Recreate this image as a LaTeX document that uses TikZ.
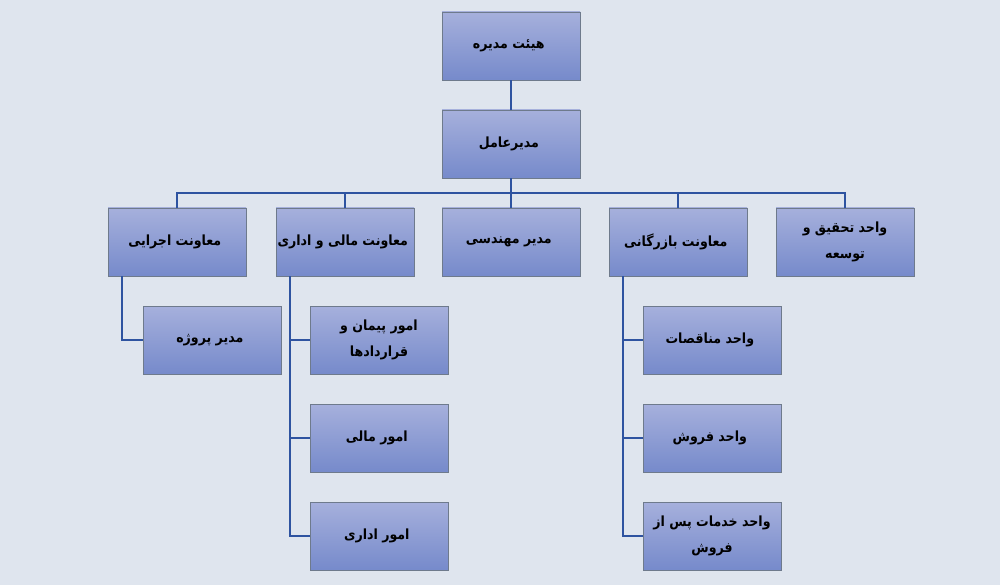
\documentclass[tikz,border=0pt]{standalone}
\usepackage{fontspec}
\usetikzlibrary{calc}
\newfontfamily\arabicfont[Script=Arabic]{DejaVu Sans Condensed}
\TeXXeTstate=1
\definecolor{pagebg}{HTML}{DFE5EE}
\definecolor{boxtop}{HTML}{A6B0DC}
\definecolor{boxbottom}{HTML}{768ACB}
\definecolor{boxline}{HTML}{6E7A8C}
\definecolor{wire}{HTML}{2E53A0}
\newcommand\fa[1]{\beginR #1\endR}
\def\boxW{138pt}
\def\boxH{68pt}
\def\busDrop{15pt}
\def\tapSep{14pt}

\begin{document}
\begin{tikzpicture}[
    unit/.style={
      draw=boxline, line width=0.8pt,
      top color=boxtop, bottom color=boxbottom,
      minimum width=\boxW, minimum height=\boxH,
      align=center, inner sep=1pt,
      font=\arabicfont\bfseries\fontsize{14}{26}\selectfont
    },
    wire/.style={
      draw=wire, line width=2pt
    }
  ]
    \fill[pagebg] (0,0) rectangle (1000pt,-585pt);
    \useasboundingbox (0,0) rectangle (1000pt,-585pt);

    % top
    \node[unit] (Board) at (511pt, -46pt)  { \fa{هیئت مدیره} };
    \node[unit] (CEO)   at (511pt,-144pt)  { \fa{مدیرعامل} };

    % deputies
    \node[unit] (ExecVP) at (177pt,-242pt) { \fa{معاونت اجرایی} };
    \node[unit] (FinVP)  at (345pt,-242pt) { \fa{معاونت مالی و اداری} };
    \node[unit] (EngMgr) at (511pt,-242pt) { \fa{مدیر مهندسی} };
    \node[unit] (ComVP)  at (678pt,-242pt) { \fa{معاونت بازرگانی} };
    \node[unit] (RnD)    at (845pt,-242pt) { \fa{واحد تحقیق و}\\\fa{توسعه} };

    % units
    \node[unit] (ProjMgr)    at (212pt,-340pt) { \fa{مدیر پروژه} };
    \node[unit] (Contracts)  at (379pt,-340pt) { \fa{امور پیمان و}\\\fa{قراردادها} };
    \node[unit] (Finance)    at (379pt,-438pt) { \fa{امور مالی} };
    \node[unit] (Admin)      at (379pt,-536pt) { \fa{امور اداری} };
    \node[unit] (Tenders)    at (712pt,-340pt) { \fa{واحد مناقصات} };
    \node[unit] (Sales)      at (712pt,-438pt) { \fa{واحد فروش} };
    \node[unit] (AfterSales) at (712pt,-536pt) { \fa{واحد خدمات پس از}\\\fa{فروش} };

    % connectors
    \draw[wire] (Board) -- (CEO);
    \coordinate (Bus) at ($(CEO.south)+(0,-\busDrop)$);
    \draw[wire] (CEO.south) -- (Bus);
    \foreach \dep in {ExecVP,FinVP,EngMgr,ComVP,RnD}
      \draw[wire] (Bus) -| (\dep.north);

    \coordinate (ExecTap) at ($(ExecVP.south west)+(\tapSep,0)$);
    \coordinate (FinTap)  at ($(FinVP.south west)+(\tapSep,0)$);
    \coordinate (ComTap)  at ($(ComVP.south west)+(\tapSep,0)$);
    \draw[wire] (ExecTap) |- (ProjMgr.west);
    \foreach \sub in {Contracts,Finance,Admin}
      \draw[wire] (FinTap) |- (\sub.west);
    \foreach \sub in {Tenders,Sales,AfterSales}
      \draw[wire] (ComTap) |- (\sub.west);
  \end{tikzpicture}
\end{document}
